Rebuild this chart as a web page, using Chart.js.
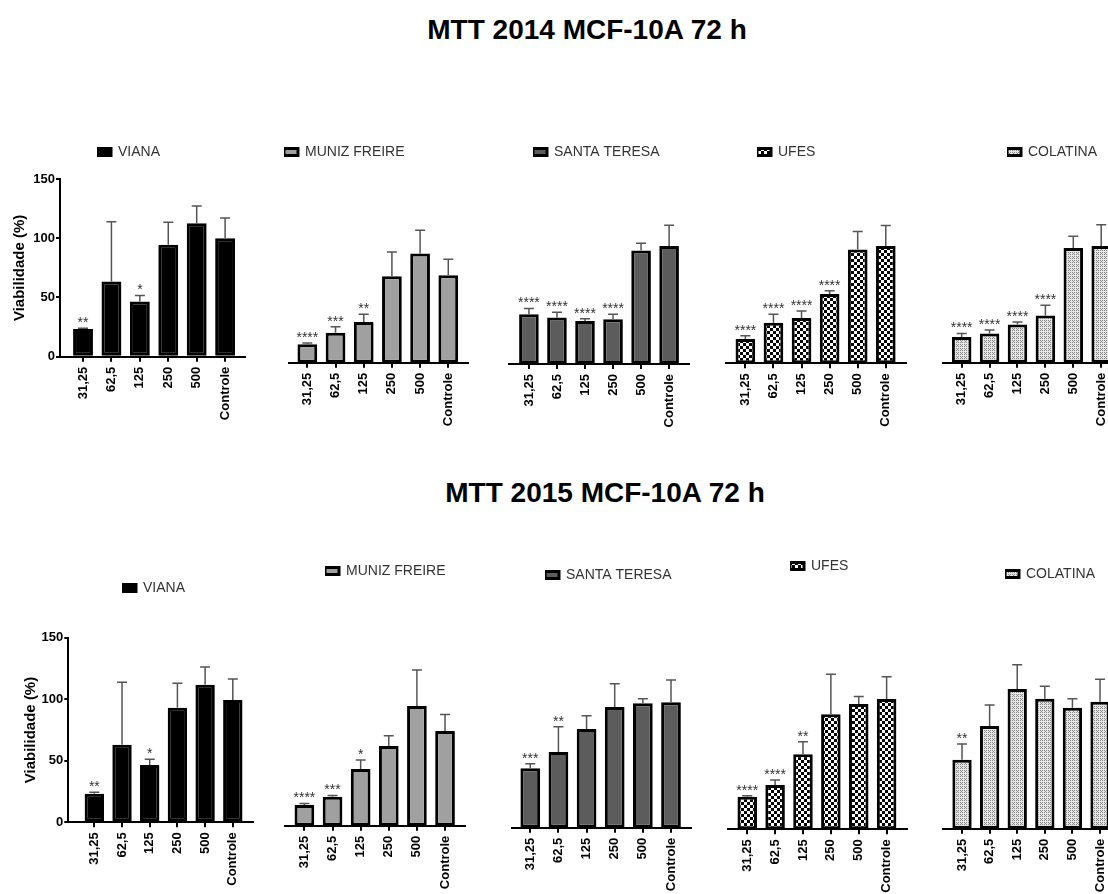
<!DOCTYPE html>
<html>
<head>
<meta charset="utf-8">
<script src="https://cdn.jsdelivr.net/npm/chart.js@4.4.1/dist/chart.umd.min.js"></script>
<style>
  html, body { margin: 0; padding: 0; background: #fff; }
  body { width: 1108px; height: 894px; position: relative; overflow: hidden;
         font-family: "Liberation Sans", Arial, sans-serif; }
  .title { position: absolute; width: 700px; text-align: center; font-weight: bold;
           font-size: 28px; line-height: 28px; color: #000; white-space: nowrap; }
  .panel { position: absolute; }
</style>
</head>
<body>
<div class="title" style="left:237px; top:16px;">MTT 2014 MCF-10A 72 h</div>
<div class="title" style="left:255px; top:479px;">MTT 2015 MCF-10A 72 h</div>
<script>
// ---- categories and labels ----
const doses = ['31,25', '62,5', '125', '250', '500', 'Controle'];
const yTitle = 'Viabilidade (%)';
const places = ['VIANA', 'MUNIZ FREIRE', 'SANTA TERESA', 'UFES', 'COLATINA'];

// ---- 2014: mean viability (%), SD and significance ----
const viana2014 = [23.3, 63.4, 46.6, 94.4, 112.6, 100.0];
const vianaSd2014 = [0.8, 50.6, 5.1, 19.1, 14.6, 17.0];
const vianaSig2014 = ['**', '', '*', '', '', ''];

const munizFreire2014 = [15.5, 25.3, 34.3, 73.0, 92.2, 73.9];
const munizFreireSd2014 = [1.1, 5.0, 6.7, 20.5, 19.6, 13.5];
const munizFreireSig2014 = ['****', '***', '**', '', '', ''];

const santaTeresa2014 = [41.9, 39.3, 36.2, 37.7, 95.8, 99.7];
const santaTeresaSd2014 = [5.0, 4.3, 2.0, 4.2, 6.1, 17.4];
const santaTeresaSig2014 = ['****', '****', '****', '****', '', ''];

const ufes2014 = [20.5, 34.3, 38.2, 58.4, 96.0, 99.1];
const ufesSd2014 = [2.8, 7.0, 5.9, 2.8, 15.2, 17.2];
const ufesSig2014 = ['****', '****', '****', '****', '', ''];

const colatina2014 = [21.7, 24.7, 32.3, 39.8, 96.9, 98.6];
const colatinaSd2014 = [3.0, 2.8, 2.0, 8.8, 9.8, 17.9];
const colatinaSig2014 = ['****', '****', '****', '****', '', ''];

// ---- 2015 ----
const viana2015 = [23.2, 63.0, 46.5, 93.1, 111.8, 99.4];
const vianaSd2015 = [1.2, 50.7, 4.7, 19.8, 14.4, 17.0];
const vianaSig2015 = ['**', '', '*', '', '', ''];

const munizFreire2015 = [16.8, 23.6, 46.1, 64.7, 97.2, 76.9];
const munizFreireSd2015 = [1.3, 1.0, 7.3, 8.4, 29.3, 13.5];
const munizFreireSig2015 = ['****', '***', '*', '', '', ''];

const santaTeresa2015 = [48.3, 61.5, 80.2, 98.1, 101.1, 101.9];
const santaTeresaSd2015 = [3.7, 20.5, 10.8, 18.9, 3.7, 18.1];
const santaTeresaSig2015 = ['***', '**', '', '', '', ''];

const ufes2015 = [26.5, 36.0, 60.9, 93.4, 101.8, 105.9];
const ufesSd2015 = [0.8, 4.0, 10.3, 32.5, 6.2, 18.1];
const ufesSig2015 = ['****', '****', '**', '', '', ''];

const colatina2015 = [56.1, 83.4, 113.5, 105.6, 98.3, 103.2];
const colatinaSd2015 = [12.7, 17.1, 19.7, 10.1, 7.3, 18.2];
const colatinaSig2015 = ['**', '', '', '', '', ''];

const series2014 = [
  [viana2014, vianaSd2014, vianaSig2014],
  [munizFreire2014, munizFreireSd2014, munizFreireSig2014],
  [santaTeresa2014, santaTeresaSd2014, santaTeresaSig2014],
  [ufes2014, ufesSd2014, ufesSig2014],
  [colatina2014, colatinaSd2014, colatinaSig2014]
];
const series2015 = [
  [viana2015, vianaSd2015, vianaSig2015],
  [munizFreire2015, munizFreireSd2015, munizFreireSig2015],
  [santaTeresa2015, santaTeresaSd2015, santaTeresaSig2015],
  [ufes2015, ufesSd2015, ufesSig2015],
  [colatina2015, colatinaSd2015, colatinaSig2015]
];

// ---- fills ----
function checkerFill() {
  const c = document.createElement('canvas'); c.width = 6; c.height = 6;
  const g = c.getContext('2d');
  g.fillStyle = '#fff'; g.fillRect(0, 0, 6, 6);
  g.fillStyle = '#000'; g.fillRect(0, 0, 3, 3); g.fillRect(3, 3, 3, 3);
  return g.createPattern(c, 'repeat');
}
function speckleFill() {
  const c = document.createElement('canvas'); c.width = 4; c.height = 4;
  const g = c.getContext('2d');
  g.fillStyle = '#e6e6e6'; g.fillRect(0, 0, 4, 4);
  g.fillStyle = '#8a8a8a';
  g.fillRect(0, 0, 1, 1); g.fillRect(2, 0, 1, 1); g.fillRect(1, 1, 1, 1);
  g.fillRect(2, 2, 1, 1); g.fillRect(0, 2, 1, 1);
  return g.createPattern(c, 'repeat');
}
const fills = ['#000000', '#a0a0a0', '#5c5c5c', checkerFill(), speckleFill()];

// ---- panel layout (page pixels) ----
const rows = [
  { series: series2014, plotH: 177.7, yWidth: 51.3, panels: [
    { axisLeft: 60,    axisRight: 245,    baseline: 356.7, xMin: -0.81, xMax: 5.70, legendX: 97,   legendY: 152 },
    { axisLeft: 289.3, axisRight: 468.3,  baseline: 362.7, xMin: -0.64, xMax: 5.71, legendX: 284,  legendY: 152 },
    { axisLeft: 509.3, axisRight: 689.3,  baseline: 364.0, xMin: -0.70, xMax: 5.72, legendX: 533,  legendY: 152 },
    { axisLeft: 726,   axisRight: 906,    baseline: 363.3, xMin: -0.69, xMax: 5.72, legendX: 757,  legendY: 152 },
    { axisLeft: 942.7, axisRight: 1121.3, baseline: 362.7, xMin: -0.68, xMax: 5.72, legendX: 1007, legendY: 152 }
  ]},
  { series: series2015, plotH: 184.6, yWidth: 48.5, panels: [
    { axisLeft: 68.3,  axisRight: 253.3,  baseline: 822.3, xMin: -0.94, xMax: 5.74, legendX: 122,  legendY: 588 },
    { axisLeft: 285,   axisRight: 465,    baseline: 825.7, xMin: -0.69, xMax: 5.71, legendX: 325,  legendY: 571 },
    { axisLeft: 511.7, axisRight: 690.7,  baseline: 827.7, xMin: -0.66, xMax: 5.70, legendX: 545,  legendY: 575 },
    { axisLeft: 727.7, axisRight: 906.7,  baseline: 829.3, xMin: -0.70, xMax: 5.72, legendX: 790,  legendY: 566 },
    { axisLeft: 942.7, axisRight: 1119.9, baseline: 828.7, xMin: -0.70, xMax: 5.72, legendX: 1005, legendY: 574 }
  ]}
];

const FONT = '"Liberation Sans", Arial, sans-serif';

// error bars (mean + SD, upward) and significance marks
const errorBars = {
  id: 'errorBars',
  afterDatasetsDraw(chart) {
    const ctx = chart.ctx;
    const y = chart.scales.y;
    chart.data.datasets.forEach((ds, di) => {
      chart.getDatasetMeta(di).data.forEach((bar, i) => {
        const v = ds.data[i].y;
        const top = y.getPixelForValue(v + ds.sd[i]);
        ctx.save();
        ctx.strokeStyle = '#555';
        ctx.lineWidth = 1.5;
        ctx.beginPath();
        ctx.moveTo(bar.x, bar.y);
        ctx.lineTo(bar.x, top);
        ctx.moveTo(bar.x - 5, top);
        ctx.lineTo(bar.x + 5, top);
        ctx.stroke();
        if (ds.sig[i]) {
          ctx.fillStyle = '#333';
          ctx.font = '14px ' + FONT;
          ctx.textAlign = 'center';
          ctx.textBaseline = 'alphabetic';
          ctx.fillText(ds.sig[i], bar.x, top - 1);
        }
        ctx.restore();
      });
    });
  }
};

// puts the legend item at a fixed spot of the canvas
const legendSpot = {
  id: 'legendSpot',
  afterLayout(chart, args, opts) {
    const lg = chart.legend;
    if (!lg) return;
    const w = lg.width, h = lg.height;
    lg.left = opts.x; lg.top = opts.y;
    lg.right = opts.x + w; lg.bottom = opts.y + h;
  }
};

function buildPanel(row, g, k) {
  const [values, sd, sig] = row.series[k];
  const showY = k === 0;
  const side = 10, xAxisH = 72, below = 2;
  const yW = showY ? row.yWidth : 0;
  const plotTop = g.baseline - row.plotH;
  const cLeft = Math.floor(g.axisLeft - yW - side);
  const cTop = Math.floor(Math.min(plotTop - 10, g.legendY - 16));
  const cRight = Math.ceil(g.axisRight + side);
  const cBottom = Math.ceil(g.baseline + xAxisH + below);
  const W = cRight - cLeft, H = cBottom - cTop;

  const div = document.createElement('div');
  div.className = 'panel';
  div.style.left = cLeft + 'px';
  div.style.top = cTop + 'px';
  div.style.width = W + 'px';
  div.style.height = H + 'px';
  const cv = document.createElement('canvas');
  cv.width = W; cv.height = H;
  cv.style.width = W + 'px'; cv.style.height = H + 'px';
  div.appendChild(cv);
  document.body.appendChild(div);

  new Chart(cv, {
    type: 'bar',
    data: {
      datasets: [{
        label: places[k],
        data: values.map((v, i) => ({ x: i, y: v })),
        sd: sd,
        sig: sig,
        backgroundColor: fills[k],
        borderColor: '#000',
        borderWidth: 3,
        borderSkipped: false,
        barPercentage: 0.7,
        categoryPercentage: 1
      }]
    },
    options: {
      responsive: false,
      animation: false,
      events: [],
      layout: {
        padding: {
          left: g.axisLeft - yW - cLeft,
          right: cRight - g.axisRight,
          top: plotTop - cTop,
          bottom: cBottom - g.baseline - xAxisH
        }
      },
      scales: {
        x: {
          type: 'linear',
          min: g.xMin, max: g.xMax,
          offset: false,
          afterBuildTicks: s => { s.ticks = doses.map((_, i) => ({ value: i })); },
          afterFit: s => { s.height = xAxisH; },
          grid: { display: true, drawOnChartArea: false, drawTicks: true, tickLength: 5,
                  color: '#000', lineWidth: 2, offset: false },
          border: { display: true, color: '#000', width: 2 },
          ticks: {
            autoSkip: false, minRotation: 90, maxRotation: 90, padding: 5,
            color: '#000', font: { family: FONT, size: 13, weight: 'bold' },
            callback: v => doses[v]
          }
        },
        y: {
          display: showY,
          min: 0, max: 150,
          afterFit: s => { s.width = yW; },
          grid: { display: true, drawOnChartArea: false, drawTicks: true, tickLength: 4,
                  color: '#000', lineWidth: 2 },
          border: { display: true, color: '#000', width: 2 },
          ticks: { stepSize: 50, padding: 1, color: '#000',
                   font: { family: FONT, size: 13, weight: 'bold' } },
          title: { display: true, text: yTitle, color: '#000',
                   font: { family: FONT, size: 15, weight: 'bold' },
                   padding: { top: 2, bottom: 0 } }
        }
      },
      plugins: {
        tooltip: { enabled: false },
        legend: {
          display: true,
          position: 'chartArea',
          align: 'start',
          labels: { boxWidth: 14, boxHeight: 7, padding: 0, color: '#333',
                    font: { family: FONT, size: 14 } }
        },
        legendSpot: { x: g.legendX - cLeft, y: g.legendY - cTop - 7 }
      }
    },
    plugins: [errorBars, legendSpot]
  });
}

rows.forEach(row => row.panels.forEach((g, k) => buildPanel(row, g, k)));
</script>
</body>
</html>
